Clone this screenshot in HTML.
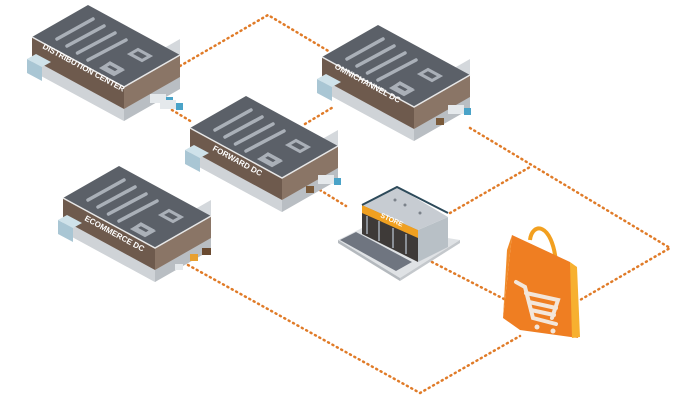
<!DOCTYPE html>
<html><head><style>body{margin:0;background:#fff}svg{display:block}</style></head><body>
<svg width="700" height="400" viewBox="0 0 700 400" xmlns="http://www.w3.org/2000/svg" font-family="Liberation Sans, sans-serif">
<defs>
<g id="wh">
  <polygon points="0,22 92,72 92,34 148,2 148,40 92,84 0,34" fill="#d4d8dc"/>
  <polygon points="0,22 92,72 92,84 0,34" fill="#cfd3d7"/>
  <polygon points="92,72 148,40 148,52 92,84" fill="#b9bec3"/>
  <polygon points="0,0 92,50 92,72 0,22" fill="#6e5a4d"/>
  <polygon points="92,50 148,18 148,40 92,72" fill="#8a7566"/>
  <polygon points="0,0 56,-32 148,18 92,50" fill="#5b6068"/>
  <polyline points="0,0 92,50 148,18" fill="none" stroke="#e8e8e8" stroke-width="1.5"/>
  <g stroke="#aab0b8" stroke-width="3.5" stroke-linecap="round">
    <line x1="25" y1="2" x2="61" y2="-18"/>
    <line x1="35" y1="9" x2="72" y2="-11"/>
    <line x1="45.5" y1="16" x2="83" y2="-4"/>
    <line x1="56" y1="23" x2="94" y2="3"/>
  </g>
  <polygon points="72,30 78,26 89,32 83,36" fill="none" stroke="#aab0b8" stroke-width="3"/>
  <polygon points="72,30 78,26 89,32 83,36" fill="none" stroke="#aab0b8" stroke-width="3" transform="translate(0,0)"/>
  <polygon points="70,31 78,26.5 90,33 82,37.5" fill="none" stroke="#aab0b8" stroke-width="3"/>
  <polygon points="98,17 106,12.5 118,19 110,23.5" fill="none" stroke="#aab0b8" stroke-width="3"/>
  <polygon points="-5,22 10,30 10,44 -5,36" fill="#a9c6d4"/>
  <polygon points="-5,22 4,17 19,25 10,30" fill="#cfe2ea"/>
</g>
</defs>
<g fill="none" stroke="#e07b28" stroke-width="2.5" stroke-dasharray="1 4" stroke-linecap="round">
  <polyline points="180,66 268,15 330,52"/>
  <line x1="172" y1="110" x2="192" y2="122"/>
  <line x1="305" y1="124" x2="335" y2="106"/>
  <polyline points="470,128 670,248 580,300"/>
  <polyline points="450,213 530,167"/>
  <line x1="320" y1="190" x2="346" y2="206"/>
  <line x1="432" y1="262" x2="506" y2="300"/>
  <polyline points="188,265 420,393 520,336"/>
</g>
<use href="#wh" x="32" y="37"/>
<use href="#wh" x="322" y="57"/>
<use href="#wh" x="190" y="128"/>
<use href="#wh" x="63" y="198"/>
<g fill="#fff" font-size="8" font-weight="bold">
  <text transform="translate(42,48) rotate(28.5)">DISTRIBUTION CENTER</text>
  <text transform="translate(334,68) rotate(28.5)">OMNICHANNEL DC</text>
  <text transform="translate(212,150) rotate(28.5)">FORWARD DC</text>
  <text transform="translate(84,220) rotate(28.5)">ECOMMERCE DC</text>
</g>
<g>
  <rect x="150" y="94" width="16" height="9" fill="#e5e9ec"/><rect x="166" y="97" width="7" height="7" fill="#4aa3c8"/>
  <rect x="160" y="100" width="16" height="9" fill="#e5e9ec"/><rect x="176" y="103" width="7" height="7" fill="#4aa3c8"/>
  <rect x="448" y="105" width="16" height="9" fill="#e5e9ec"/><rect x="464" y="108" width="7" height="7" fill="#4aa3c8"/>
  <rect x="436" y="118" width="8" height="7" fill="#7a5a3a"/>
  <rect x="318" y="175" width="16" height="9" fill="#e5e9ec"/><rect x="334" y="178" width="7" height="7" fill="#4aa3c8"/>
  <rect x="306" y="186" width="8" height="7" fill="#7a5a3a"/>
  <rect x="190" y="254" width="8" height="7" fill="#e8a030"/><rect x="202" y="248" width="9" height="7" fill="#6a4a30"/>
  <rect x="175" y="264" width="8" height="6" fill="#e5e9ec"/>
</g>
<g>
  <polygon points="338,240 368,225 460,240 400,278" fill="#dfe2e5"/>
  <polygon points="340,240 356,232 412,262 396,271" fill="#6f7580"/>
  <polygon points="338,240 400,278 400,281 338,243" fill="#b4b9be"/>
  <polygon points="400,278 460,240 460,243 400,281" fill="#c4c8cc"/>
  <polygon points="362,205 418,230 418,262 362,234" fill="#3e3a38"/>
  <g fill="#8a8f96"><rect x="366" y="216" width="2" height="18"/><rect x="378" y="221" width="2" height="20"/><rect x="392" y="228" width="2" height="20"/><rect x="405" y="234" width="2" height="20"/></g>
  <polygon points="418,230 448,217 448,247 418,262" fill="#b8c0c6"/>
  <polygon points="362,205 418,230 418,238 362,213" fill="#f0a020"/>
  <polygon points="362,205 397,187 448,217 418,230" fill="#c7ccd2"/>
  <polyline points="362,205 397,187 448,213" fill="none" stroke="#2d4a5a" stroke-width="2"/>
  <circle cx="395" cy="200" r="1.5" fill="#7b828a"/><circle cx="405" cy="205" r="1.5" fill="#7b828a"/><circle cx="420" cy="213" r="1.5" fill="#7b828a"/>
  <text transform="translate(380,217) rotate(24)" font-size="7" font-weight="bold" fill="#fff">STORE</text>
</g>
<g>
  <path d="M530,240 C532,222 552,222 556,262" fill="none" stroke="#f2a020" stroke-width="4"/>
  <polygon points="512,235 570,262 578,338 520,330 503,318" fill="#ef7e22"/>
  <polygon points="570,262 577,267 580,337 572,338" fill="#f7b030"/>
  <polygon points="512,235 503,318 507,250" fill="#f08a28"/>
  <g fill="none" stroke="#f3e6da" stroke-width="4" stroke-linecap="round">
    <polyline points="516,282 525,287 533,318 556,324"/>
    <polyline points="526,293 558,300 552,318"/>
    <line x1="529" y1="302" x2="556" y2="308"/><line x1="531" y1="310" x2="554" y2="315"/>
  </g>
  <circle cx="537" cy="327" r="2.5" fill="#f3e6da"/><circle cx="553" cy="331" r="2.5" fill="#f3e6da"/>
</g>
</svg>
</body></html>
